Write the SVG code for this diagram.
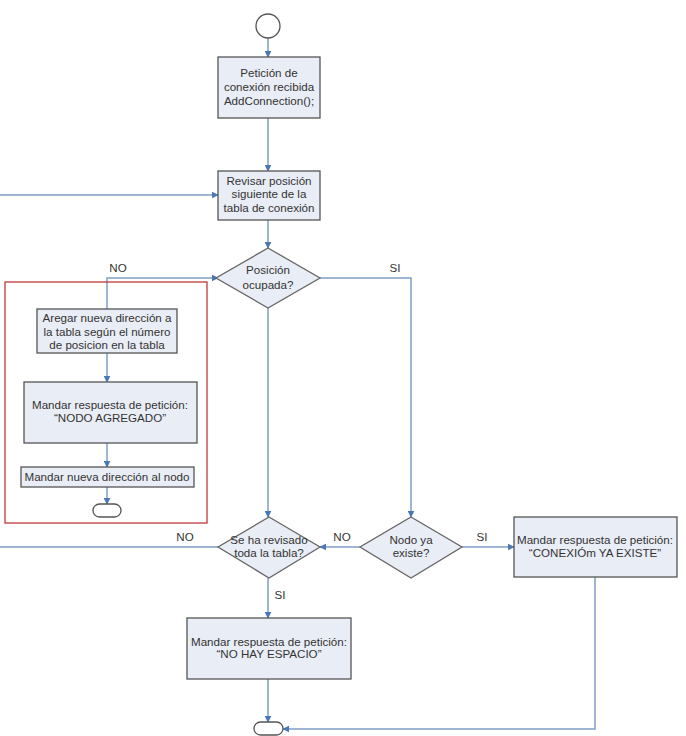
<svg xmlns="http://www.w3.org/2000/svg" width="686" height="736" viewBox="0 0 686 736">
<defs>
<marker id="ah" viewBox="0 0 10 10" refX="9" refY="5" markerWidth="7" markerHeight="7" markerUnits="userSpaceOnUse" orient="auto">
<path d="M0,0 L10,5 L0,10 z" fill="#4a78b5"/>
</marker>
<style>
.box{fill:#e9edf6;stroke:#555;stroke-width:1.3}
.dia{fill:#e9edf6;stroke:#666;stroke-width:1.3}
.term{fill:#fff;stroke:#555;stroke-width:1.3}
.c{fill:none;stroke:#7f9fc6;stroke-width:1.5}
.ca{fill:none;stroke:#7f9fc6;stroke-width:1.5;marker-end:url(#ah)}
text{font-family:"Liberation Sans",Arial,sans-serif;font-size:11.6px;fill:#333;text-anchor:middle}
</style>
</defs>
<rect width="686" height="736" fill="#fff"/>
<g id="connectors">
<line class="ca" x1="268" y1="38" x2="268" y2="57"/>
<line class="ca" x1="268" y1="118" x2="268" y2="171"/>
<line class="ca" x1="268" y1="220" x2="268" y2="248"/>
<polyline class="ca" points="107,309 107,278 218,278"/>
<polyline class="ca" points="320,278 411,278 411,517"/>
<line class="ca" x1="268" y1="308" x2="268" y2="517"/>
<line class="ca" x1="107" y1="353" x2="107" y2="382"/>
<line class="ca" x1="107" y1="443" x2="107" y2="467"/>
<line class="ca" x1="107" y1="487" x2="107" y2="504"/>
<line class="ca" x1="360" y1="547" x2="320" y2="547"/>
<polyline class="ca" points="218,547 -3,547 -3,195 218,195"/>
<line class="ca" x1="462" y1="547" x2="514" y2="547"/>
<line class="ca" x1="268" y1="578" x2="268" y2="618"/>
<line class="ca" x1="268" y1="679" x2="268" y2="722"/>
<polyline class="ca" points="595,577 595,729 283,729"/>
<text x="118" y="272">NO</text>
<text x="395" y="272">SI</text>
<text x="185" y="541">NO</text>
<text x="342" y="541">NO</text>
<text x="482" y="541">SI</text>
<text x="280" y="599">SI</text>
</g>
<rect id="group-frame" x="5" y="282" width="202" height="241" fill="none" stroke="#c0393b" stroke-width="1.3"/>
<g id="start"><circle class="term" cx="268" cy="26" r="12"/></g>
<g id="n1"><rect class="box" x="218" y="57" width="102" height="61"/>
<text x="269" y="77">Petición de</text><text x="269" y="91">conexión recibida</text><text x="269" y="105">AddConnection();</text></g>
<g id="n2"><rect class="box" x="218" y="171" width="102" height="49"/>
<text x="269" y="185">Revisar posición</text><text x="269" y="198">siguiente de la</text><text x="269" y="212">tabla de conexión</text></g>
<g id="d1"><polygon class="dia" points="268,248 320,278 268,308 216,278"/>
<text x="268" y="274">Posición</text><text x="268" y="289">ocupada?</text></g>
<g id="n3"><rect class="box" x="37" y="309" width="140" height="44"/>
<text x="107" y="322">Aregar nueva dirección a</text><text x="107" y="336">la tabla según el número</text><text x="107" y="349">de posicion en la tabla</text></g>
<g id="n4"><rect class="box" x="24" y="382" width="173" height="61"/>
<text x="110" y="409">Mandar respuesta de petición:</text><text x="110" y="422">“NODO AGREGADO”</text></g>
<g id="n5"><rect class="box" x="21" y="467" width="173" height="20"/>
<text x="107" y="481">Mandar nueva dirección al nodo</text></g>
<g id="end1"><rect class="term" x="93" y="504" width="28" height="13" rx="6.5"/></g>
<g id="d2"><polygon class="dia" points="269,517 320,547 269,578 218,547"/>
<text x="269" y="544">Se ha revisado</text><text x="269" y="557">toda la tabla?</text></g>
<g id="d3"><polygon class="dia" points="411,517 462,547 411,578 360,547"/>
<text x="411" y="544">Nodo ya</text><text x="411" y="557">existe?</text></g>
<g id="n6"><rect class="box" x="514" y="517" width="163" height="60"/>
<text x="595" y="544">Mandar respuesta de petición:</text><text x="595" y="557">“CONEXIÓm YA EXISTE”</text></g>
<g id="n7"><rect class="box" x="187" y="618" width="164" height="61"/>
<text x="269" y="646">Mandar respuesta de petición:</text><text x="269" y="658">“NO HAY ESPACIO”</text></g>
<g id="end2"><rect class="term" x="254" y="722" width="29" height="13" rx="6.5"/></g>
</svg>
